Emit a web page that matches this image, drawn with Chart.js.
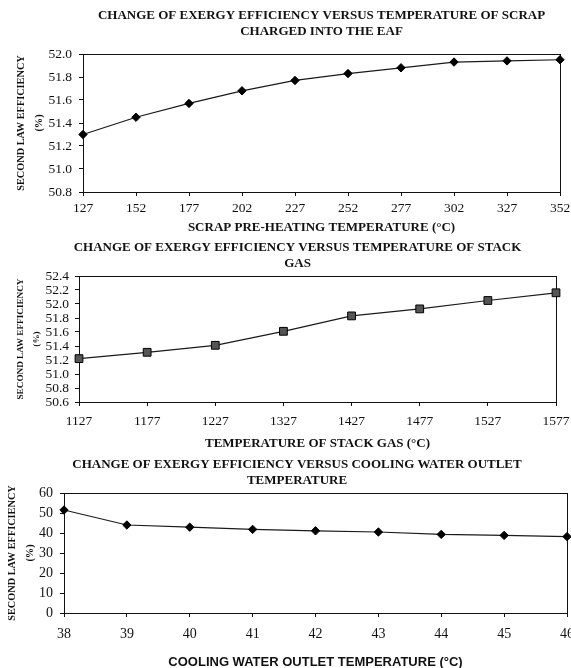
<!DOCTYPE html>
<html>
<head>
<meta charset="utf-8">
<title>Exergy efficiency charts</title>
<script src="https://cdn.jsdelivr.net/npm/chart.js@4/dist/chart.umd.min.js"></script>
<style>
  html, body { margin: 0; padding: 0; background: #fff; }
  body { width: 571px; height: 668px; overflow: hidden; position: relative; }
  canvas { position: absolute; left: 0; }
</style>
</head>
<body>
<canvas id="scrapChart" width="643" height="240" style="top:0px"></canvas>
<canvas id="stackChart" width="595" height="220" style="top:236px"></canvas>
<canvas id="waterChart" width="594" height="222" style="top:452px"></canvas>

<script>
// Data
const scrapTemps = ['127', '152', '177', '202', '227', '252', '277', '302', '327', '352'];
const scrapEff = [51.30, 51.45, 51.57, 51.68, 51.77, 51.83, 51.88, 51.93, 51.94, 51.95];

const stackTemps = ['1127', '1177', '1227', '1327', '1427', '1477', '1527', '1577'];
const stackEff = [51.22, 51.31, 51.41, 51.61, 51.83, 51.93, 52.05, 52.16];

const waterTemps = ['38', '39', '40', '41', '42', '43', '44', '45', '46'];
const waterEff = [51.5, 44.0, 42.9, 41.8, 41.1, 40.5, 39.3, 38.8, 38.2];

const yTitle = ['SECOND LAW EFFICIENCY', '(%)'];

const SERIF = '"Liberation Serif", "Times New Roman", serif';
const SANS = '"Liberation Sans", Arial, sans-serif';
const INK = '#111';

// closed box round the plot area (top and right edges too)
const frame = {
  id: 'frame',
  beforeDatasetsDraw(chart) {
    const { ctx, chartArea: a } = chart;
    const l = Math.round(a.left - 0.5) + 0.5;
    const t = Math.round(a.top - 0.5) + 0.5;
    const r = Math.round(a.right - 0.5) + 0.5;
    const b = Math.round(a.bottom - 0.5) + 0.5;
    ctx.save();
    ctx.strokeStyle = INK;
    ctx.lineWidth = 1;
    ctx.strokeRect(l, t, r - l, b - t);
    ctx.restore();
  }
};

function buildChart(id, s) {
  return new Chart(document.getElementById(id), {
    type: 'line',
    data: {
      labels: s.labels,
      datasets: [{
        data: s.values,
        borderColor: '#1a1a1a',
        borderWidth: 1.2,
        tension: 0,
        pointStyle: s.marker,
        pointRadius: s.radius,
        pointBackgroundColor: s.fill,
        pointBorderColor: '#000',
        pointBorderWidth: 1,
        clip: false
      }]
    },
    options: {
      responsive: false,
      animation: false,
      devicePixelRatio: 1,
      layout: { padding: 0 },
      plugins: {
        legend: { display: false },
        tooltip: { enabled: false },
        title: {
          display: true,
          text: s.title,
          color: INK,
          font: { family: SERIF, size: 13, weight: 'bold', lineHeight: '16px' },
          padding: { top: s.titleTop, bottom: s.titleBottom }
        }
      },
      scales: {
        x: {
          type: 'category',
          offset: false,
          grid: { drawOnChartArea: false, drawTicks: true, tickLength: 4, color: INK },
          border: { display: true, color: INK },
          ticks: {
            color: INK,
            font: { family: SERIF, size: s.tickSize },
            padding: s.xTickPad,
            maxRotation: 0,
            autoSkip: false
          },
          title: {
            display: true,
            text: s.xTitle,
            color: INK,
            font: s.xTitleFont,
            padding: { top: 0, bottom: 4 }
          },
          afterFit(scale) { scale.height = s.xHeight; }
        },
        y: {
          min: s.yMin,
          max: s.yMax,
          grid: { drawOnChartArea: false, drawTicks: true, tickLength: 4, color: INK },
          border: { display: true, color: INK },
          ticks: {
            stepSize: s.yStep,
            autoSkip: false,
            color: INK,
            font: { family: SERIF, size: s.tickSize },
            padding: s.yTickPad,
            callback: v => Number(v).toFixed(s.decimals)
          },
          title: {
            display: true,
            text: yTitle,
            color: INK,
            font: { family: SERIF, size: s.yTitleSize, weight: 'bold', lineHeight: s.yTitleLh },
            padding: { top: s.yTitlePad, bottom: 0 }
          },
          afterFit(scale) { scale.width = s.yWidth; }
        },
        // empty right-hand axis: only keeps blank room right of the plot,
        // so the chart title sits where the original one does
        spacer: {
          type: 'linear',
          position: 'right',
          grid: { display: false, drawTicks: false },
          border: { display: false },
          ticks: { display: false },
          afterFit(scale) { scale.width = s.rightGap; }
        }
      }
    },
    plugins: [frame]
  });
}

// 1) scrap pre-heating
buildChart('scrapChart', {
  labels: scrapTemps, values: scrapEff,
  marker: 'rectRot', radius: 4.2, fill: '#000',
  title: ['CHANGE OF EXERGY EFFICIENCY VERSUS TEMPERATURE OF SCRAP', 'CHARGED INTO THE EAF'],
  titleTop: 8, titleBottom: 14,
  xTitle: 'SCRAP PRE-HEATING TEMPERATURE (\u00B0C)',
  xTitleFont: { family: SERIF, size: 13, weight: 'bold', lineHeight: '16px' },
  xHeight: 48, xTickPad: 4,
  yMin: 50.8, yMax: 52.0, yStep: 0.2, decimals: 1,
  yWidth: 83, yTickPad: 7,
  yTitleSize: 10.3, yTitleLh: '18px', yTitlePad: 12,
  tickSize: 13.5, rightGap: 83
});

// 2) stack gas
buildChart('stackChart', {
  labels: stackTemps, values: stackEff,
  marker: 'rect', radius: 5.5, fill: '#555',
  title: ['CHANGE OF EXERGY EFFICIENCY VERSUS TEMPERATURE OF STACK', 'GAS'],
  titleTop: 4, titleBottom: 4,
  xTitle: 'TEMPERATURE OF STACK GAS (\u00B0C)',
  xTitleFont: { family: SERIF, size: 13, weight: 'bold', lineHeight: '16px' },
  xHeight: 54, xTickPad: 7,
  yMin: 50.6, yMax: 52.4, yStep: 0.2, decimals: 1,
  yWidth: 79, yTickPad: 6,
  yTitleSize: 9.2, yTitleLh: '16px', yTitlePad: 13,
  tickSize: 13.5, rightGap: 39
});

// 3) cooling water outlet
buildChart('waterChart', {
  labels: waterTemps, values: waterEff,
  marker: 'rectRot', radius: 4.2, fill: '#000',
  title: ['CHANGE OF EXERGY EFFICIENCY VERSUS COOLING WATER OUTLET', 'TEMPERATURE'],
  titleTop: 5, titleBottom: 4,
  xTitle: 'COOLING WATER OUTLET TEMPERATURE (\u00B0C)',
  xTitleFont: { family: SANS, size: 13, weight: 'bold', lineHeight: '16px' },
  xHeight: 61, xTickPad: 9,
  yMin: 0, yMax: 60, yStep: 10, decimals: 0,
  yWidth: 64, yTickPad: 7,
  yTitleSize: 10.3, yTitleLh: '18px', yTitlePad: 3,
  tickSize: 14, rightGap: 27
});
</script>
</body>
</html>
